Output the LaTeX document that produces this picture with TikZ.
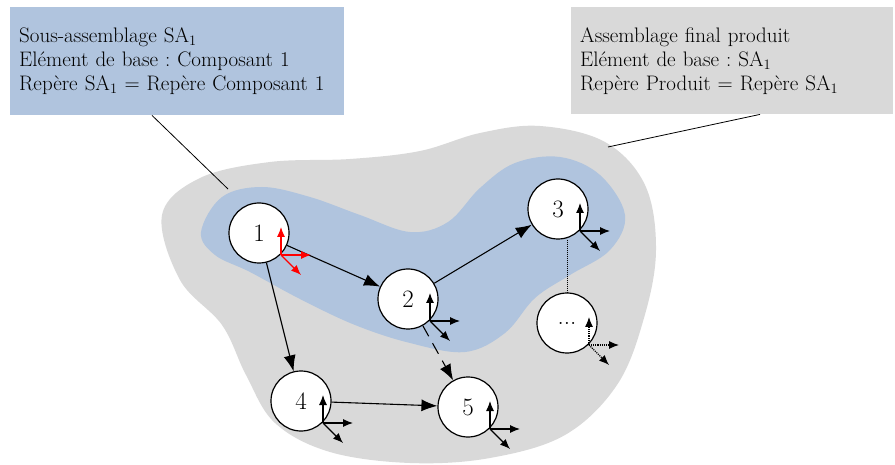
\documentclass[tikz,border=0pt]{standalone}
\usepackage{tikz}
\usetikzlibrary{arrows.meta, positioning, calc}
\definecolor{blueblob}{RGB}{176, 196, 222}
\definecolor{greyblob}{RGB}{217, 217, 217}

\tikzset{
  part/.style={circle, draw, fill=white, line width=1.2pt, minimum size=60pt, inner sep=0pt, font=\fontsize{25}{28}\selectfont},
  link/.style={line width=1.1pt, -{Latex[length=16pt, width=12pt]}},
  axis/.style={line width=1.1pt, -{Latex[length=10pt, width=8pt]}},
  infobox/.style={anchor=north west, align=left, inner sep=9pt, font=\fontsize{21}{24}\selectfont}
}

\begin{document}
\frenchspacing
\begin{tikzpicture}[x=1pt, y=-1pt]
  \useasboundingbox (0,0) rectangle (895,465);
  % zones
  \fill[greyblob] plot[smooth cycle, tension=0.6] coordinates {
    (162,215) (200,178) (270,162) (350,159) (420,151) (480,133) (540,126)
    (605,142) (645,185) (656,250) (644,318) (617,385) (565,435) (490,458)
    (410,463) (330,452) (275,423) (246,375) (222,325) (180,280)};
  \fill[blueblob] plot[smooth cycle, tension=0.6] coordinates {
    (201,232) (222,197) (262,187) (310,197) (360,215) (410,232) (448,222)
    (480,188) (515,163) (560,157) (600,175) (625,215) (610,250) (570,275)
    (535,298) (505,333) (465,352) (410,343) (355,325) (300,299) (250,272)
    (215,255)};
  % boxes
  \node[infobox, fill=blueblob, minimum height=108pt, text width=316pt] (sabox) at (10,7)
    {Sous-assemblage SA$_1$\\Elément de base : Composant 1\\Repère SA$_1$ = Repère Composant 1};
  \node[infobox, fill=greyblob, minimum height=107pt, text width=304pt] (prodbox) at (571,7)
    {Assemblage final produit\\Elément de base : SA$_1$\\Repère Produit = Repère SA$_1$};
  \coordinate (sain) at (228,189);
  \coordinate (prodin) at (608,147);
  \draw[line width=0.8pt] ([xshift=142pt]sabox.south west) -- (sain);
  \draw[line width=0.8pt] ([xshift=189pt]prodbox.south west) -- (prodin);
  % parts
  \node[part] (c1) at (259,233) {1};
  \node[part] (c2) at (408,299) {2};
  \node[part] (c3) at (558,209) {3};
  \node[part] (cdots) at (567,323) {...};
  \node[part] (c4) at (301,401) {4};
  \node[part] (c5) at (468,407) {5};
  % links
  \draw[link] (c1) -- (c2);
  \draw[link] (c2) -- (c3);
  \draw[link] (c1) -- (c4);
  \draw[link] (c4) -- (c5);
  \draw[link, dash pattern=on 12pt off 8pt] (c2) -- (c5);
  \draw[line width=1pt, densely dotted] (cdots.north |- c3.south) -- (cdots.north);
  % frames
  \foreach \n/\col/\pat in {c1/red/solid, c2/black/solid, c3/black/solid, c4/black/solid, c5/black/solid, cdots/black/densely dotted}{
    \coordinate (o) at ([shift={(22,22)}]\n.center);
    \draw[axis, \col, \pat] (o) -- ++(0,-28);
    \draw[axis, \col, \pat] (o) -- ++(30,0);
    \draw[axis, \col, \pat] (o) -- ++(20,20);
  }
\end{tikzpicture}
\end{document}
